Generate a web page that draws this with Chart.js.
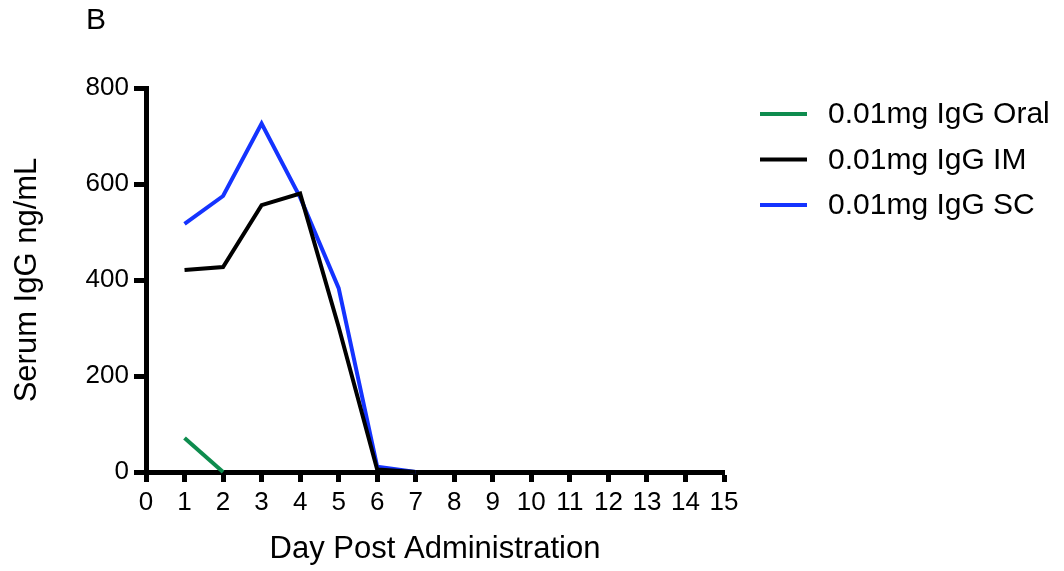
<!DOCTYPE html>
<html>
<head>
<meta charset="utf-8">
<script src="https://cdn.jsdelivr.net/npm/chart.js@4/dist/chart.umd.min.js"></script>
<style>
  html, body { margin: 0; padding: 0; background: #fff; }
  #wrap { width: 1064px; height: 571px; position: relative; }
</style>
</head>
<body>
<div id="wrap"><canvas id="c" width="1064" height="571"></canvas></div>
<script>
// Serum IgG after a single 0.01 mg dose, by route of administration
const panelLetter = 'B';
const xTitle = 'Day Post Administration';
const yTitle = 'Serum IgG ng/mL';

const oralDays = [1, 2];
const oralValues = [71, 0];

const imDays = [1, 2, 3, 4, 5, 6, 7];
const imValues = [421, 427, 556, 580, 302, 5, 0];

const scDays = [1, 2, 3, 4, 5, 6, 7];
const scValues = [517, 575, 726, 572, 383, 11, 0];

const seriesLabels = ['0.01mg IgG Oral', '0.01mg IgG IM', '0.01mg IgG SC'];
const seriesColors = ['#0e8c4e', '#000000', '#1433ff'];

const FONT = "'Liberation Sans', Arial, sans-serif";

const toPoints = (xs, ys) => xs.map((x, i) => ({ x: x, y: ys[i] }));

// Panel letter and a simple line legend drawn on the right
const decorations = {
  id: 'decorations',
  afterDraw(chart) {
    const ctx = chart.ctx;
    ctx.save();
    ctx.fillStyle = '#000';
    ctx.font = '30px ' + FONT;
    ctx.textBaseline = 'middle';
    ctx.textAlign = 'center';
    ctx.fillText(panelLetter, 96, 21);

    ctx.textAlign = 'left';
    ctx.font = '30px ' + FONT;
    chart.data.datasets.forEach((ds, i) => {
      const y = 114 + i * 45.5;
      ctx.strokeStyle = ds.borderColor;
      ctx.lineWidth = 4;
      ctx.lineCap = 'butt';
      ctx.beginPath();
      ctx.moveTo(760, y);
      ctx.lineTo(807, y);
      ctx.stroke();
      ctx.fillStyle = '#000';
      ctx.fillText(ds.label, 828, y + 1);
    });
    ctx.restore();
  }
};

const lineSet = (label, color, pts) => ({
  label: label,
  data: pts,
  borderColor: color,
  backgroundColor: color,
  borderWidth: 4,
  pointRadius: 0,
  tension: 0,
  fill: false,
  clip: false
});

new Chart(document.getElementById('c'), {
  type: 'line',
  data: {
    datasets: [
      lineSet(seriesLabels[0], seriesColors[0], toPoints(oralDays, oralValues)),
      lineSet(seriesLabels[1], seriesColors[1], toPoints(imDays, imValues)),
      lineSet(seriesLabels[2], seriesColors[2], toPoints(scDays, scValues))
    ]
  },
  options: {
    responsive: false,
    animation: false,
    devicePixelRatio: 1,
    layout: { padding: { left: 0, top: 88, right: 340, bottom: 0 } },
    plugins: {
      legend: { display: false },
      tooltip: { enabled: false },
      title: { display: false }
    },
    scales: {
      x: {
        type: 'linear',
        min: 0,
        max: 15,
        afterFit(scale) { scale.height = 99; },
        ticks: {
          stepSize: 1,
          color: '#000',
          padding: 5,
          maxRotation: 0,
          autoSkip: false,
          font: { family: FONT, size: 26 }
        },
        grid: {
          display: true,
          drawOnChartArea: false,
          drawTicks: true,
          tickLength: 10,
          tickWidth: 5,
          tickColor: '#000'
        },
        border: { display: true, width: 5, color: '#000' },
        title: {
          display: true,
          text: xTitle,
          color: '#000',
          font: { family: FONT, size: 31, lineHeight: 1 },
          padding: { top: 0, bottom: 6 }
        }
      },
      y: {
        min: 0,
        max: 800,
        afterFit(scale) { scale.width = 146; },
        ticks: {
          stepSize: 200,
          color: '#000',
          padding: 5,
          font: { family: FONT, size: 26 }
        },
        grid: {
          display: true,
          drawOnChartArea: false,
          drawTicks: true,
          tickLength: 12,
          tickWidth: 5,
          tickColor: '#000'
        },
        border: { display: true, width: 5, color: '#000' },
        title: {
          display: true,
          text: yTitle,
          color: '#000',
          font: { family: FONT, size: 31, lineHeight: 1 },
          padding: { top: 12, bottom: 0 }
        }
      }
    }
  },
  plugins: [decorations]
});
</script>
</body>
</html>
